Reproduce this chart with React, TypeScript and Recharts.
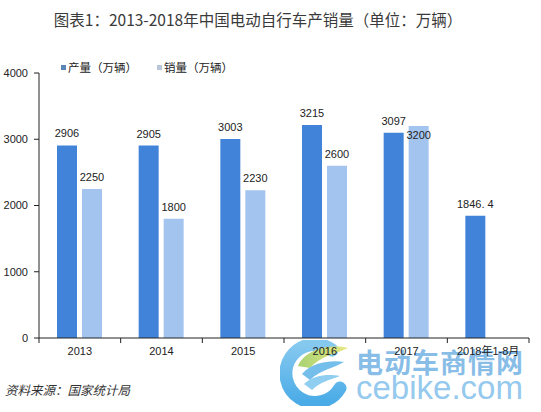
import React from 'react';
import { BarChart, Bar, XAxis, YAxis, LabelList, Legend } from 'recharts';

const categories = ['2013', '2014', '2015', '2016', '2017', '2018年1-8月'];
const production = [2906, 2905, 3003, 3215, 3097, 1846.4];
const sales: (number | null)[] = [2250, 1800, 2230, 2600, 3200, null];
const yTicks = [0, 1000, 2000, 3000, 4000];
const seriesNames = ['产量（万辆）', '销量（万辆）'];
const title = '图表1：2013-2018年中国电动自行车产销量（单位：万辆）';
const source = '资料来源：国家统计局';

const data = categories.map((c, i) => ({ name: c, production: production[i], sales: sales[i] }));

const W = 541;
const H = 412;
const MARGIN = { top: 57, right: 12, bottom: 54, left: 0 };
const Y_AXIS_W = 39;
const X_AXIS_H = 20;
const COLORS = ['#4283DA', '#A3C4EE'];
const LEGEND_COLORS = ['#5A86B8', '#B9C6D8'];
const NUM_FONT = '"Liberation Sans", Arial, "Noto Sans CJK SC", sans-serif';
const CJK_FONT = '"Noto Sans CJK SC", "Liberation Sans", sans-serif';
const AXIS_COLOR = '#222';
// Excel placed this one sales label just inside the top of its bar
const SALES_LABEL_INSIDE = '2017';

const fmt = (v: number) => (Number.isInteger(v) ? String(v) : String(v).replace('.', '. '));

const makeLabel = (insideCategory?: string) => (props: any) => {
  const { x, y, width, value, index } = props;
  if (value == null) return null;
  const inside = insideCategory != null && categories[index] === insideCategory;
  const ty = inside ? Number(y) + 13 : Number(y) - 8;
  return (
    <text x={Number(x) + Number(width) / 2} y={ty} textAnchor="middle" fontSize={11} fill="#222" fontFamily={NUM_FONT}>
      {fmt(Number(value))}
    </text>
  );
};

const XTick = (props: any) => {
  const { x, y, payload } = props;
  const plotW = W - MARGIN.left - MARGIN.right - Y_AXIS_W;
  const half = payload && payload.offset ? payload.offset : plotW / categories.length / 2;
  const axisY = Number(y) - 8;
  const idx = payload.index ?? categories.indexOf(payload.value);
  return (
    <g>
      <line x1={x - half} x2={x - half} y1={axisY} y2={axisY + 5} stroke={AXIS_COLOR} strokeWidth={1} />
      {idx === categories.length - 1 && (
        <line x1={x + half} x2={x + half} y1={axisY} y2={axisY + 5} stroke={AXIS_COLOR} strokeWidth={1} />
      )}
      <text x={x} y={axisY + 17} textAnchor="middle" fontSize={11} fill="#222" fontFamily={NUM_FONT}>
        {payload.value}
      </text>
    </g>
  );
};

const LegendContent = () => (
  <div style={{ display: 'flex', alignItems: 'center', fontFamily: CJK_FONT, fontSize: 11.5, color: '#222' }}>
    {seriesNames.map((n, i) => (
      <div key={n} style={{ display: 'flex', alignItems: 'center', marginRight: i === 0 ? 20 : 0 }}>
        <span style={{ display: 'inline-block', width: 5, height: 5, background: LEGEND_COLORS[i], marginRight: 2 }} />
        <span>{n}</span>
      </div>
    ))}
  </div>
);

const Logo = () => (
  <svg width={72} height={66} style={{ position: 'absolute', left: 280, top: 340 }} viewBox="0 0 72 66">
    <defs>
      <linearGradient id="leaf" x1="0" y1="0" x2="1" y2="0">
        <stop offset="0%" stopColor="#A8D272" />
        <stop offset="100%" stopColor="#E8E985" />
      </linearGradient>
      <linearGradient id="ring" x1="0" y1="0" x2="0" y2="1">
        <stop offset="0%" stopColor="#86C9EF" />
        <stop offset="100%" stopColor="#4AABE7" />
      </linearGradient>
    </defs>
    <path d="M 52 10 A 29 29 0 1 0 60 48" fill="none" stroke="url(#ring)" strokeWidth={13} strokeLinecap="round" />
    <path d="M 18 26 C 26 8, 52 4, 68 8 C 56 14, 40 16, 30 28 Z" fill="url(#leaf)" />
    <path d="M 22 34 C 32 22, 52 20, 64 22 C 54 28, 40 30, 30 40 Z" fill="#74BEEB" />
    <path d="M 24 44 C 34 34, 50 34, 60 36 C 50 40, 40 42, 32 50 Z" fill="#90CEF1" />
  </svg>
);

export default function App() {
  return (
    <div style={{ position: 'absolute', left: 0, top: 0, width: W, height: H, background: '#fff', overflow: 'hidden' }}>
      <div
        style={{
          position: 'absolute',
          left: 0,
          top: 8,
          width: 516,
          textAlign: 'center',
          fontFamily: CJK_FONT,
          fontSize: 15.5,
          color: '#3a3a3a',
          lineHeight: '22px',
          whiteSpace: 'nowrap',
        }}
      >
        {title}
      </div>
      <Logo />
      <div
        style={{
          position: 'absolute',
          left: 356,
          top: 347,
          fontFamily: CJK_FONT,
          fontSize: 27,
          fontWeight: 700,
          color: 'rgba(96,168,222,0.75)',
          letterSpacing: 1,
          lineHeight: '30px',
          whiteSpace: 'nowrap',
        }}
      >
        电动车商情网
      </div>
      <div
        style={{
          position: 'absolute',
          left: 356,
          top: 371,
          fontFamily: '"Liberation Sans", Arial, sans-serif',
          fontSize: 33,
          color: 'rgba(120,186,232,0.8)',
          lineHeight: '34px',
          whiteSpace: 'nowrap',
        }}
      >
        cebike.com
      </div>
      <div style={{ position: 'absolute', left: 0, top: 0 }}>
        <BarChart width={W} height={H} data={data} margin={MARGIN} barSize={20} barGap={5}>
          <YAxis
            width={Y_AXIS_W}
            domain={[0, 4000]}
            ticks={yTicks}
            interval={0}
            axisLine={{ stroke: AXIS_COLOR }}
            tickLine={{ stroke: AXIS_COLOR }}
            tickSize={5}
            tickMargin={6}
            tick={{ fontSize: 11, fill: '#222', fontFamily: NUM_FONT }}
          />
          <XAxis
            dataKey="name"
            height={X_AXIS_H}
            interval={0}
            axisLine={{ stroke: AXIS_COLOR }}
            tickLine={false}
            tickSize={4}
            tickMargin={4}
            tick={<XTick />}
          />
          <Legend
            verticalAlign="top"
            align="left"
            content={<LegendContent />}
            wrapperStyle={{ position: 'absolute', top: 59, left: 61, width: 'auto' }}
          />
          <Bar dataKey="production" name={seriesNames[0]} fill={COLORS[0]} isAnimationActive={false}>
            <LabelList dataKey="production" content={makeLabel()} />
          </Bar>
          <Bar dataKey="sales" name={seriesNames[1]} fill={COLORS[1]} isAnimationActive={false}>
            <LabelList dataKey="sales" content={makeLabel(SALES_LABEL_INSIDE)} />
          </Bar>
        </BarChart>
      </div>
      <div
        style={{
          position: 'absolute',
          left: 5,
          top: 381,
          fontFamily: CJK_FONT,
          fontSize: 12.5,
          fontStyle: 'italic',
          color: '#333',
          lineHeight: '18px',
          whiteSpace: 'nowrap',
        }}
      >
        {source}
      </div>
    </div>
  );
}
